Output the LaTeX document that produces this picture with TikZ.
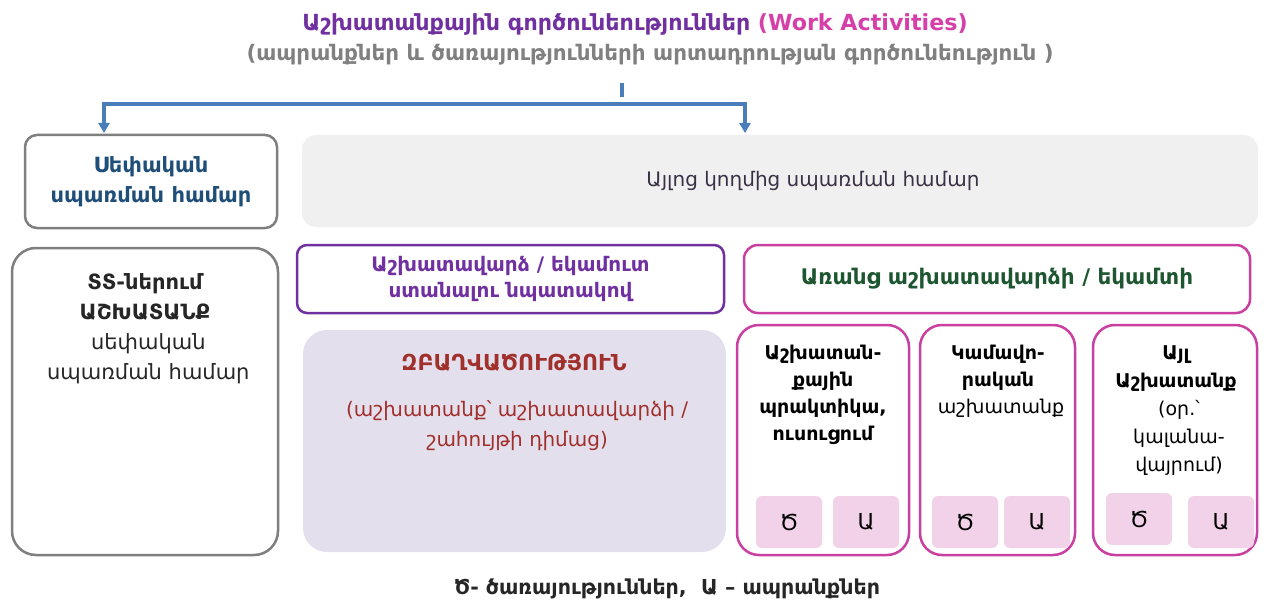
\documentclass[tikz,border=0pt]{standalone}
\usepackage{fontspec}
\setmainfont{DejaVu Sans}
\usetikzlibrary{arrows.meta,calc}
\definecolor{titlepurple}{HTML}{7030A0}
\definecolor{titlemag}{HTML}{D63FA8}
\definecolor{subgray}{HTML}{808080}
\definecolor{boxgray}{HTML}{7F7F7F}
\definecolor{ownblue}{HTML}{1F4E79}
\definecolor{lightgray}{HTML}{F0F0F0}
\definecolor{darktext}{HTML}{3B3146}
\definecolor{purp}{HTML}{7030A0}
\definecolor{lav}{HTML}{E4DFEC}
\definecolor{darkred}{HTML}{A0302C}
\definecolor{mag}{HTML}{C940A0}
\definecolor{dgreen}{HTML}{1E5631}
\definecolor{pinkfill}{HTML}{F2D2E8}
\definecolor{arrblue}{HTML}{4A7EBB}
\definecolor{bodytext}{HTML}{262626}
\newcommand{\fsz}[2]{\fontsize{#1}{#2}\selectfont}
\tikzset{
  frame/.style={rectangle, inner sep=0pt, line width=2.5pt},
  graybox/.style={frame, draw=boxgray},
  purpbox/.style={frame, draw=purp, rounded corners=10pt},
  magbox/.style={frame, draw=mag, rounded corners=14pt},
  filled/.style={rectangle, inner sep=0pt, draw=none},
  pinkbox/.style={filled, fill=pinkfill, rounded corners=6pt, minimum width=66pt, minimum height=52pt, font=\fsz{22}{26}},
  txt/.style={align=center, inner sep=0pt},
  bluearrow/.style={draw=arrblue, line width=3.5pt, -{Triangle[width=11pt,length=10pt]}},
  blueline/.style={draw=arrblue, line width=3.5pt},
}
\begin{document}
\begin{tikzpicture}[x=1pt,y=-1pt]
\useasboundingbox (0,0) rectangle (1276,604);
% titles
\node[txt, font=\bfseries\fsz{22.2}{26}] (title) at (635,24)
  {\textcolor{titlepurple}{Աշխատանքային գործունեություններ} \textcolor{titlemag}{(Work Activities)}};
\node[txt, font=\bfseries\fsz{21.4}{26}, text=subgray] (sub) at (650,55)
  {(ապրանքներ և ծառայությունների արտադրության գործունեություն )};
% top row
\node[graybox, rounded corners=12pt, minimum width=252pt, minimum height=93pt] (own) at (151,181.5) {};
\node[txt, font=\bfseries\fsz{21}{30}, text=ownblue] (ownt) at (own.center)
  {Սեփական\\սպառման համար};
\node[filled, fill=lightgray, rounded corners=14pt, minimum width=956pt, minimum height=92pt] (other) at (780,181) {};
\node[txt, font=\fsz{20}{24}, text=darktext] (othert) at (813,181) {Այլոց կողմից սպառման համար};
% arrows
\coordinate (tk1) at (622,83);
\coordinate (tk2) at (622,97);
\coordinate (split) at (622,104);
\coordinate (ownin) at (104,133);
\coordinate (otherin) at (745,133);
\draw[blueline] (tk1) -- (tk2);
\draw[bluearrow] (split) -| (ownin);
\draw[bluearrow] (split) -| (otherin);
% left big box
\node[graybox, rounded corners=24pt, minimum width=266pt, minimum height=307pt] (hh) at (145,401.5) {};
\node[txt, text=bodytext, anchor=north, font=\bfseries\fsz{21}{30}] (hht) at (145,273)
  {ՏՏ-ներում\\ ԱՇԽԱՏԱՆՔ\\
   \mdseries\fsz{21}{30} սեփական\\ \mdseries\fsz{21}{30} սպառման համար};
% purple box
\node[purpbox, minimum width=427pt, minimum height=68pt] (paid) at (510.5,279) {};
\node[txt, font=\bfseries\fsz{20}{26}, text=purp] (paidt) at (paid.center)
  {Աշխատավարձ / եկամուտ\\ստանալու նպատակով};
% employment
\node[filled, fill=lav, rounded corners=24pt, minimum width=423pt, minimum height=222pt] (emp) at (514.5,441) {};
\node[txt, text=darkred, anchor=north, font=\bfseries\fsz{22}{30}] (empt) at (514,354)
  {ԶԲԱՂՎԱԾՈՒԹՅՈՒՆ\\[16pt]
   \mdseries\fsz{20}{30} (աշխատանք՝ աշխատավարձի /\\ \mdseries\fsz{20}{30} շահույթի դիմաց)};
% unpaid
\node[magbox, minimum width=506pt, minimum height=68pt] (unpaid) at (997,279) {};
\node[txt, font=\bfseries\fsz{21.5}{26}, text=dgreen] (unpaidt) at (unpaid.center)
  {Առանց աշխատավարձի / եկամտի};
% small boxes
\node[magbox, rounded corners=22pt, minimum width=172pt, minimum height=230pt] (b1) at (823,440) {};
\node[magbox, rounded corners=22pt, minimum width=155pt, minimum height=230pt] (b2) at (997.5,440) {};
\node[magbox, rounded corners=22pt, minimum width=164pt, minimum height=230pt] (b3) at (1175,440) {};
\node[txt, anchor=north, text=black, font=\bfseries\fsz{19}{27}] (b1t) at (823,345)
  {Աշխատան-\\քային\\պրակտիկա,\\ուսուցում};
\node[txt, anchor=north, text=black, font=\bfseries\fsz{19}{27}] (b2t) at (998,345)
  {Կամավո-\\րական\\ \mdseries\fsz{19}{27} աշխատանք};
\node[txt, anchor=north, text=black, font=\bfseries\fsz{19}{28}] (b3t) at (1176,345)
  {Այլ\\Աշխատանք\\ \mdseries\fsz{19}{28} (օր.՝\\ \mdseries\fsz{19}{28} կալանա-\\ \mdseries\fsz{19}{28} վայրում)};
\node[pinkbox] (s1) at (789,522) {Ծ};
\node[pinkbox] (g1) at (866,522) {Ա};
\node[pinkbox] (s2) at (965,522) {Ծ};
\node[pinkbox] (g2) at (1037,522) {Ա};
\node[pinkbox] (s3) at (1139,519) {Ծ};
\node[pinkbox] (g3) at (1221,522) {Ա};
% footer
\node[txt, font=\bfseries\fsz{20.6}{24}, text=bodytext] (foot) at (667,589)
  {Ծ- ծառայություններ,\ \ Ա – ապրանքներ};
\end{tikzpicture}
\end{document}
